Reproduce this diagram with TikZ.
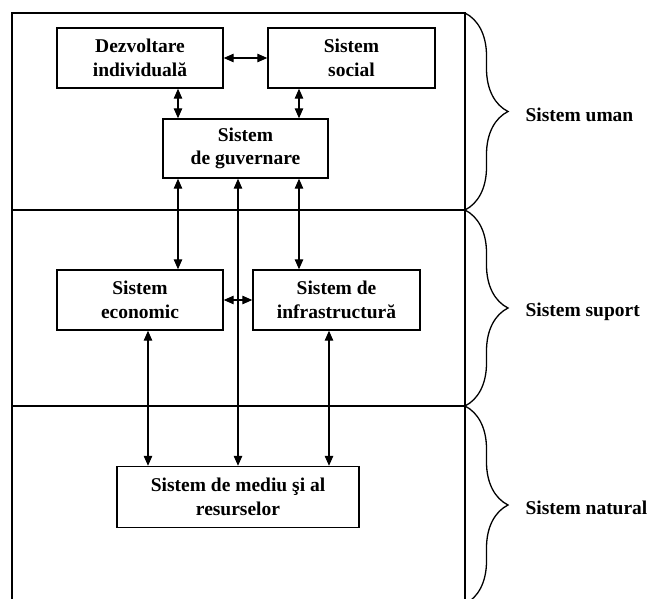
\documentclass[tikz,border=0pt]{standalone}
\usepackage{fontspec}
\setmainfont{Liberation Serif}
\usetikzlibrary{arrows.meta,decorations.pathreplacing}
\begin{document}
\begin{tikzpicture}[x=1pt,y=-1pt,
  frame/.style={line width=1.4pt},
  sysbox/.style={draw,line width=1.4pt,align=center,inner sep=0pt,
    font=\fontsize{19.5}{23.5}\selectfont\bfseries},
  link/.style={line width=1.2pt,{Triangle[length=10pt,width=8.5pt]}-{Triangle[length=10pt,width=8.5pt]}},
  bracestyle/.style={line width=1.3pt,decorate,decoration={brace,amplitude=43pt,aspect=0.5}},
  lbl/.style={anchor=west,font=\fontsize{19.5}{23.5}\selectfont\bfseries}]
\useasboundingbox (0,0) rectangle (650,599);
% frame
\coordinate (fTL) at (12,13);
\coordinate (fTR) at (465,13);
\coordinate (fBL) at (12,605);
\coordinate (fBR) at (465,605);
\coordinate (d1L) at (12,210);
\coordinate (d1R) at (465,210);
\coordinate (d2L) at (12,406);
\coordinate (d2R) at (465,406);
\draw[frame] (fBL) -- (fTL) -- (fTR) -- (fBR);
\draw[frame] (d1L) -- (d1R);
\draw[frame] (d2L) -- (d2R);
% boxes
\node[sysbox,minimum width=166pt,minimum height=60pt] (dez) at (140,58) {Dezvoltare\\individuală};
\node[sysbox,minimum width=167pt,minimum height=60pt] (soc) at (351.5,58) {Sistem\\social};
\node[sysbox,minimum width=165pt,minimum height=59pt] (guv) at (245.5,148.5) {Sistem\\de guvernare};
\node[sysbox,minimum width=166pt,minimum height=60pt] (eco) at (140,300) {Sistem\\economic};
\node[sysbox,minimum width=167pt,minimum height=60pt] (inf) at (336.5,300) {Sistem de\\infrastructură};
\node[sysbox,minimum width=242pt,minimum height=61pt] (med) at (238,497) {Sistem de mediu şi al\\resurselor};
% columns
\coordinate (c148) at (148,0);
\coordinate (c178) at (178,0);
\coordinate (c238) at (238,0);
\coordinate (c299) at (299,0);
\coordinate (c329) at (329,0);
% connectors
\draw[link] (dez.east) -- (soc.west);
\draw[link] (dez.south -| c178) -- (guv.north -| c178);
\draw[link] (soc.south -| c299) -- (guv.north -| c299);
\draw[link] (guv.south -| c178) -- (eco.north -| c178);
\draw[link] (guv.south -| c238) -- (med.north -| c238);
\draw[link] (guv.south -| c299) -- (inf.north -| c299);
\draw[link] (eco.east) -- (inf.west);
\draw[link] (eco.south -| c148) -- (med.north -| c148);
\draw[link] (inf.south -| c329) -- (med.north -| c329);
% braces
\coordinate (b3end) at (465,604);
\draw[bracestyle] (fTR) -- (d1R);
\draw[bracestyle] (d1R) -- (d2R);
\draw[bracestyle] (d2R) -- (b3end);
\node[lbl] (lu) at (522,115) {Sistem uman};
\node[lbl] (ls) at (522,312) {Sistem suport};
\node[lbl] (ln) at (522,508) {Sistem natural};
\end{tikzpicture}
\end{document}
